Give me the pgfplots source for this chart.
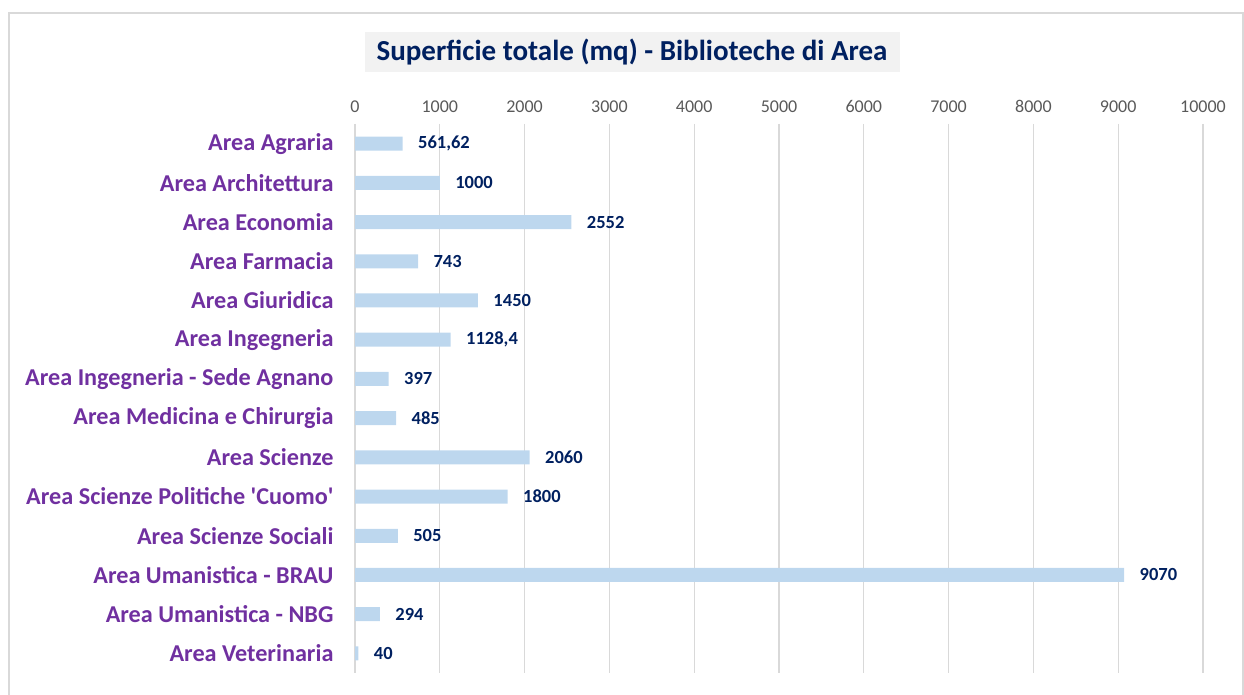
\documentclass[border=0pt]{standalone}
\usepackage{pgfplots}
\pgfplotsset{compat=1.18}
\usepackage{pgfplotstable}
\usepackage{fontspec}
\setmainfont{Carlito}
\definecolor{barblue}{HTML}{BDD7EE}
\definecolor{lblpurple}{HTML}{7030A0}
\definecolor{navy}{HTML}{002060}
\definecolor{tickgray}{HTML}{595959}
\definecolor{gridgray}{HTML}{D9D9D9}
\definecolor{titlebg}{HTML}{F2F2F2}
\pgfplotstableread{
i v lab
0 561.62 561,62
1 1000 1000
2 2552 2552
3 743 743
4 1450 1450
5 1128.4 1128,4
6 397 397
7 485 485
8 2060 2060
9 1800 1800
10 505 505
11 9070 9070
12 294 294
13 40 40
}\datatable
\begin{document}
\begin{tikzpicture}[x=1pt,y=1pt]
\path[use as bounding box] (0,0) rectangle (1244,695);
\draw[gridgray, line width=1.2pt] (9,-2) -- (9,682) -- (1243,682) -- (1243,-2);
\node[fill=titlebg, minimum width=535pt, minimum height=40pt, inner sep=0pt, text=navy, font=\fontsize{29}{34}\selectfont\bfseries] at (632,643) {Superficie totale (mq) - Biblioteche di Area};
\begin{axis}[
  at={(355pt,22pt)}, anchor=south west,
  scale only axis, width=848pt, height=549pt,
  xbar, bar width=14pt,
  xmin=0, xmax=10000,
  ymin=-0.5, ymax=13.5, y dir=reverse,
  xtick={0,1000,...,10000},
  ytick={0,...,13},
  yticklabels={Area Agraria, Area Architettura, Area Economia, Area Farmacia, Area Giuridica, Area Ingegneria, Area Ingegneria - Sede Agnano, Area Medicina e Chirurgia, Area Scienze, Area Scienze Politiche \textquotesingle Cuomo\textquotesingle, Area Scienze Sociali, Area Umanistica - BRAU, Area Umanistica - NBG, Area Veterinaria},
  axis line style={draw=none},
  major tick length=0pt,
  xticklabel pos=upper,
  xmajorgrids, grid style={gridgray, line width=1.2pt},
  scaled x ticks=false,
  /pgf/number format/assume math mode=true,
  xticklabel={\pgfmathprintnumber[fixed,1000 sep={}]{\tick}},
  xticklabel style={text=tickgray, font=\fontsize{18}{21}\selectfont, yshift=8pt},
  yticklabel style={text=lblpurple, font=\fontsize{24.2}{29}\selectfont\bfseries, xshift=-18pt},
  nodes near coords, point meta=explicit symbolic,
  nodes near coords style={anchor=west, xshift=12pt, text=navy, font=\fontsize{18.5}{22}\selectfont\bfseries},
  clip=false,
]
\addplot[fill=barblue, draw=none] table[x=v, y=i, meta=lab] {\datatable};
\end{axis}
\end{tikzpicture}
\end{document}
